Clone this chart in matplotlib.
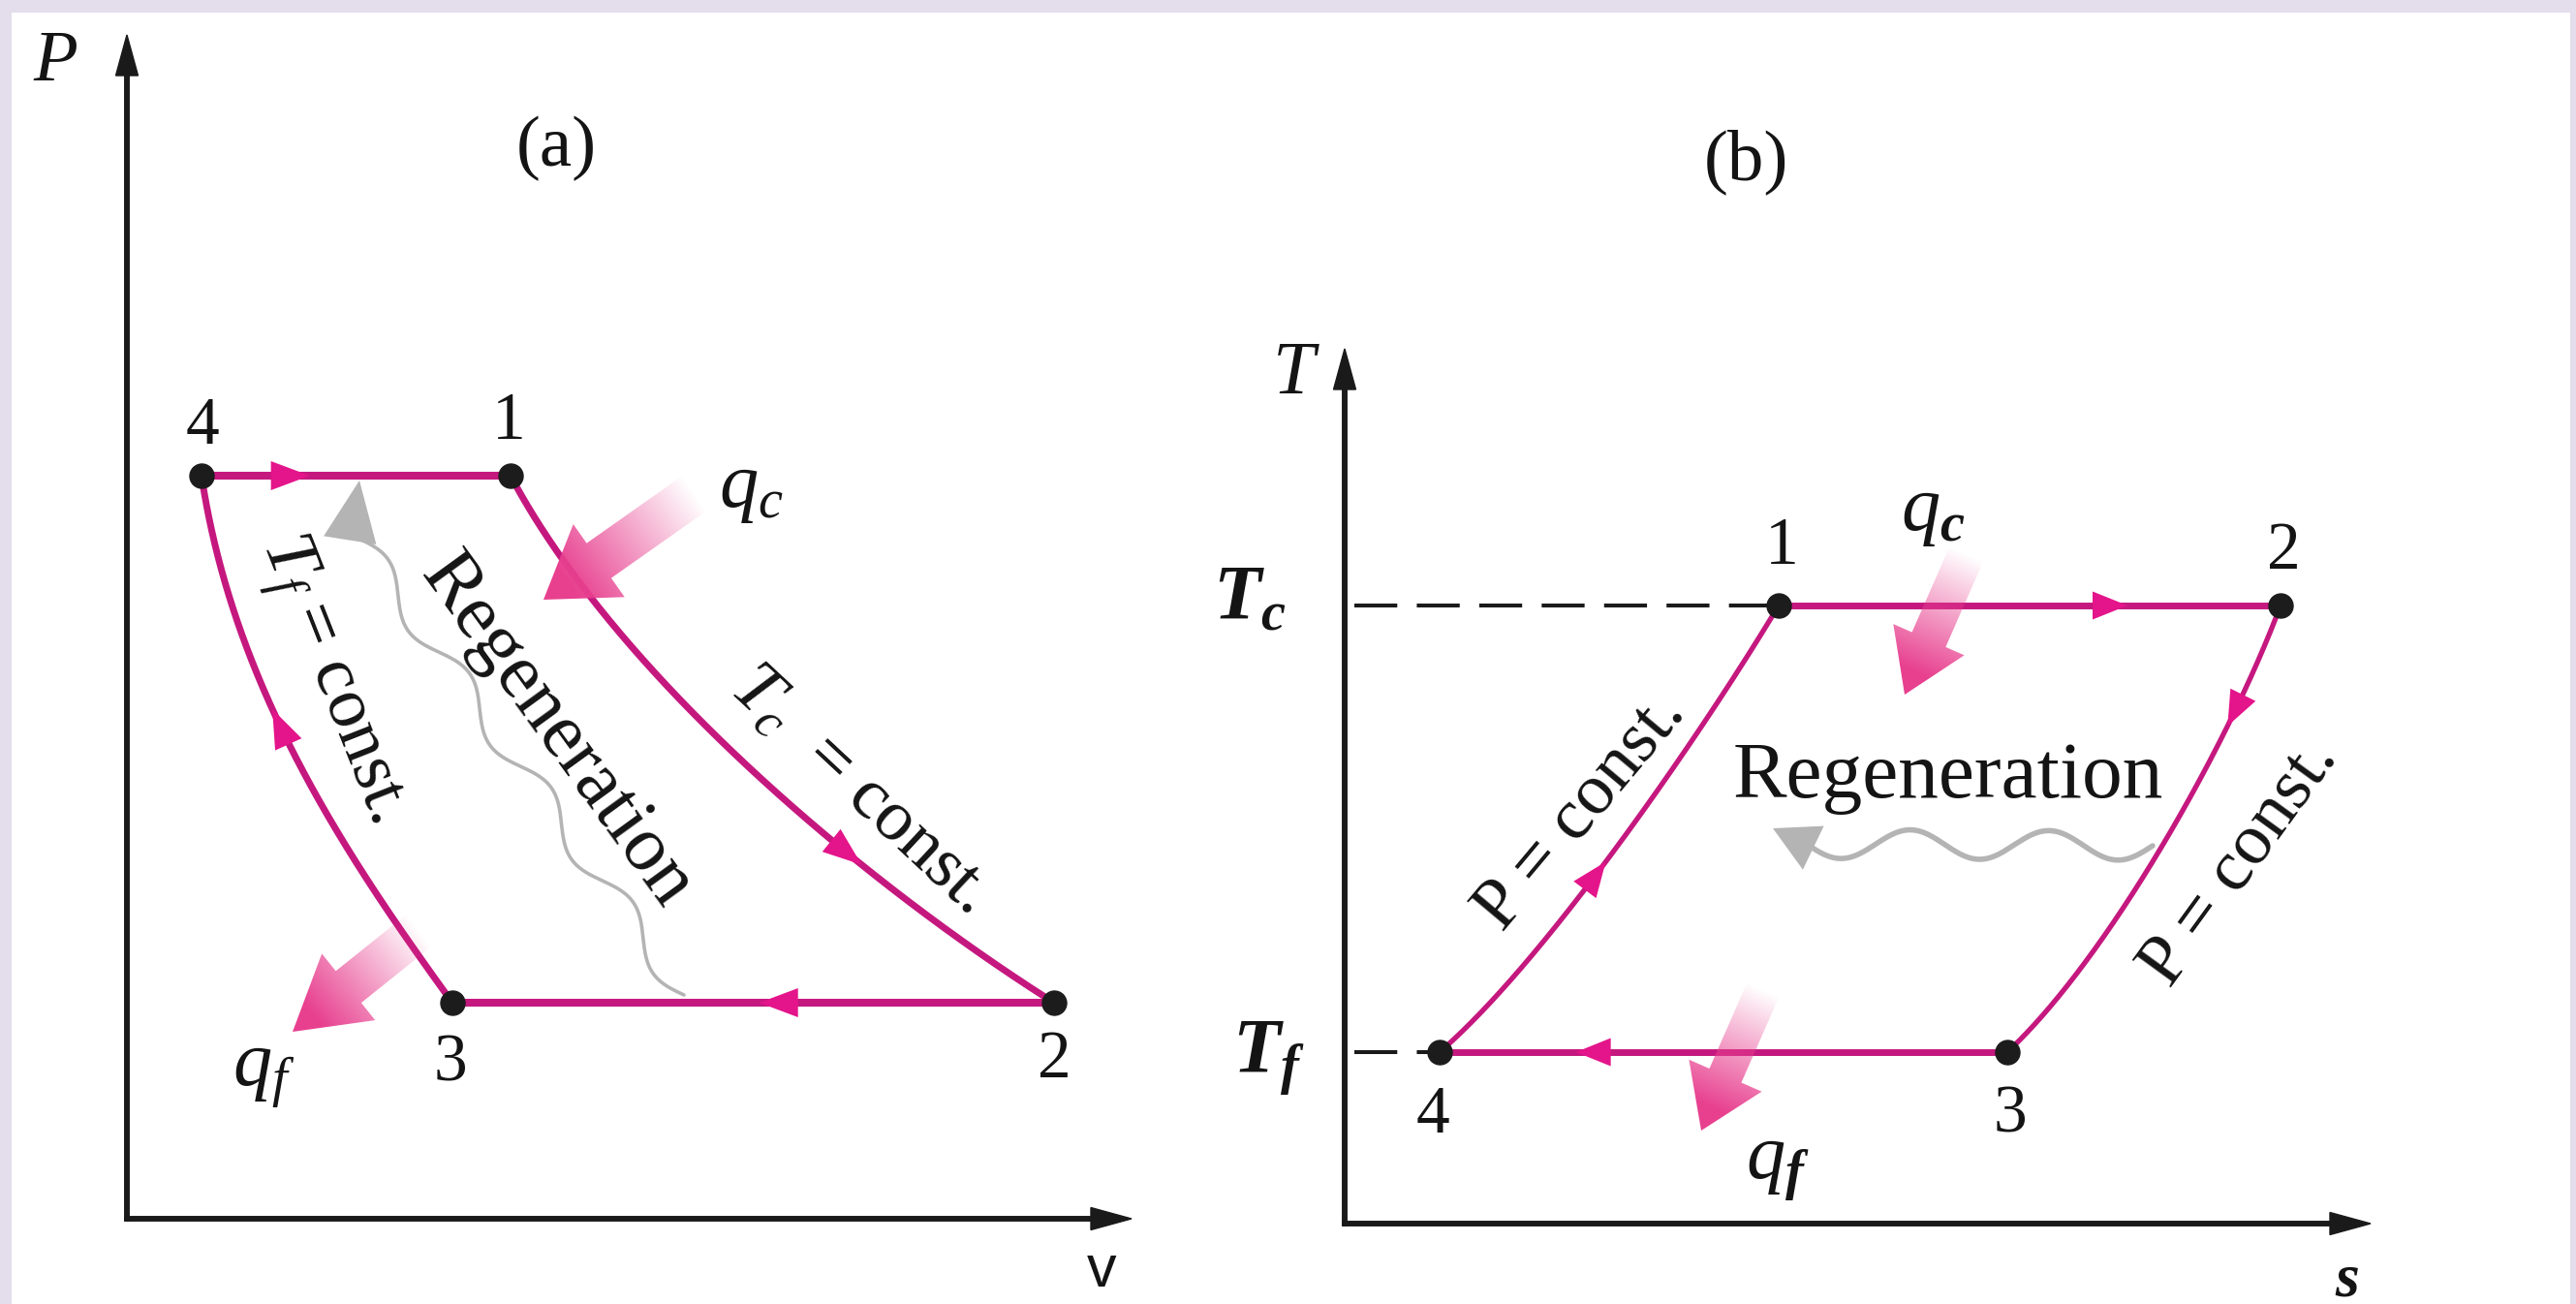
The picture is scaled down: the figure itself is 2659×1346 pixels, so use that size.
import numpy as np
import matplotlib
matplotlib.use("Agg")
import matplotlib.pyplot as plt
import matplotlib.colors as mcolors
from matplotlib.patches import Polygon, Rectangle, FancyArrow

plt.rcParams["font.family"] = ["Liberation Serif", "DejaVu Serif"]
plt.rcParams["mathtext.fontset"] = "custom"
plt.rcParams["mathtext.rm"] = "Liberation Serif"
plt.rcParams["mathtext.it"] = "Liberation Serif:italic"
plt.rcParams["mathtext.bf"] = "Liberation Serif:italic:bold"

# ---------------- (a) P-v diagram (arbitrary units) ----------------
pv_labels = ["1", "2", "3", "4"]
pv_v = [3.96, 9.57, 3.36, 0.77]
pv_P = [7.67, 2.23, 2.23, 7.67]
pv_hot_ctrl = [(5.02, 5.67), (7.50, 3.54)]     # T_c isotherm, 1 -> 2
pv_cold_ctrl = [(2.28, 3.72), (1.10, 5.47)]    # T_f isotherm, 3 -> 4
pv_arrow_frac = [0.69, 0.49, 0.585, 0.35]      # legs 1-2, 2-3, 3-4, 4-1
pv_axis_max = (10.37, 12.22)

# ---------------- (b) T-s diagram (arbitrary units) ----------------
ts_labels = ["1", "2", "3", "4"]
ts_s = [4.48, 9.66, 6.84, 0.98]
ts_T = [6.38, 6.38, 1.77, 1.77]
ts_hot_ctrl = [(9.12, 4.93), (7.87, 2.73)]     # isobar 2 -> 3
ts_cold_ctrl = [(2.08, 2.72), (3.70, 5.08)]    # isobar 4 -> 1
ts_arrow_frac = [0.695, 0.25, 0.76, 0.45]      # legs 1-2, 2-3, 3-4, 4-1
ts_axis_max = (10.59, 9.03)

W, H, DPI = 2659, 1346, 100
LINE = "#c5187f"
HEAD = "#e4148a"
DOT = "#1c1c1c"
AXC = "#1a1a1a"
GRAY = "#b4b4b4"
PINK = "#e8408f"
TXT = "#141414"


def bezier(p0, c1, c2, p3, n=400):
    p0, c1, c2, p3 = (np.asarray(p, float) for p in (p0, c1, c2, p3))
    t = np.linspace(0, 1, n)[:, None]
    return (1 - t) ** 3 * p0 + 3 * (1 - t) ** 2 * t * c1 + 3 * (1 - t) * t ** 2 * c2 + t ** 3 * p3


def segment(p0, p1, n=50):
    t = np.linspace(0, 1, n)[:, None]
    return np.asarray(p0, float) * (1 - t) + np.asarray(p1, float) * t


def along(pts, frac):
    d = np.diff(pts, axis=0)
    seg = np.hypot(d[:, 0], d[:, 1])
    cum = np.concatenate([[0], np.cumsum(seg)])
    s = frac * cum[-1]
    i = int(np.clip(np.searchsorted(cum, s) - 1, 0, len(seg) - 1))
    r = (s - cum[i]) / seg[i]
    return pts[i] + r * d[i], d[i] / seg[i]


def head(ax, tip, u, length, width, color, z=5):
    tip = np.asarray(tip, float)
    u = np.asarray(u, float)
    n = np.array([-u[1], u[0]])
    base = tip - u * length
    ax.add_patch(Polygon([tip, base + n * width / 2, base - n * width / 2],
                         closed=True, fc=color, ec="none", zorder=z))


def heat_arrow(ax, tail, tip, shaft, hw, hl, color=PINK, z=6):
    tail = np.asarray(tail, float)
    tip = np.asarray(tip, float)
    d = tip - tail
    L = np.hypot(*d)
    u = d / L
    n = np.array([-u[1], u[0]])
    base = tip - u * hl
    pts = np.array([tail + n * shaft / 2, base + n * shaft / 2, base + n * hw / 2, tip,
                    base - n * hw / 2, base - n * shaft / 2, tail - n * shaft / 2])
    poly = Polygon(pts, closed=True, fc="none", ec="none")
    ax.add_patch(poly)
    x0, y0 = pts.min(0)
    x1, y1 = pts.max(0)
    gx, gy = np.meshgrid(np.linspace(x0, x1, 240), np.linspace(y0, y1, 240))
    t = ((gx - tail[0]) * u[0] + (gy - tail[1]) * u[1]) / L
    rgba = np.zeros(gx.shape + (4,))
    rgba[..., :3] = mcolors.to_rgb(color)
    rgba[..., 3] = np.clip(1.3 * t - 0.1, 0, 1) ** 1.0
    im = ax.imshow(rgba, extent=(x0, x1, y0, y1), origin="lower", aspect="auto",
                   interpolation="bilinear", zorder=z)
    im.set_clip_path(poly)


def regen(ax, start, end, tip, wl, amp, lw, hw):
    start = np.asarray(start, float)
    end = np.asarray(end, float)
    d = end - start
    L = np.hypot(*d)
    u = d / L
    n = np.array([-u[1], u[0]])
    s = np.linspace(0, L, 600)
    off = amp * np.sin(2 * np.pi * s / wl)
    pts = start + s[:, None] * u + off[:, None] * n
    ax.plot(pts[:, 0], pts[:, 1], color=GRAY, lw=lw, solid_capstyle="round", zorder=3)
    tip = np.asarray(tip, float)
    dh = tip - pts[-1]
    hl = np.hypot(*dh)
    head(ax, tip, dh / hl, hl * 1.1, hw, GRAY, z=3)


def axis_arrows(ax, xmax, ymax):
    w = 0.045
    ax.add_patch(FancyArrow(-w / 2, 0, xmax + w / 2, 0, width=w, head_width=0.23, head_length=0.42,
                            length_includes_head=True, color=AXC, zorder=2, clip_on=False))
    ax.add_patch(FancyArrow(0, -w / 2, 0, ymax + w / 2, width=w, head_width=0.23, head_length=0.42,
                            length_includes_head=True, color=AXC, zorder=2, clip_on=False))


def cycle(ax, pts4, legs, fracs, lw_h, lw_c, hl, hwid):
    for k, leg in enumerate(legs):
        lw = lw_h if len(leg) == 50 else lw_c
        ax.plot(leg[:, 0], leg[:, 1], color=LINE, lw=lw, solid_capstyle="butt", zorder=4)
        tip, u = along(leg, fracs[k])
        head(ax, tip, u, hl, hwid, HEAD, z=5)
    ax.plot(pts4[:, 0], pts4[:, 1], "o", ms=18, color=DOT, zorder=7)


def label(ax, x, y, s, size, rot=0, **kw):
    kw.setdefault("ha", "center")
    kw.setdefault("va", "center")
    ax.text(x, y, s, fontsize=size, rotation=rot, rotation_mode="anchor",
            color=TXT, zorder=8, **kw)


fig = plt.figure(figsize=(W / DPI, H / DPI), dpi=DPI, facecolor="#e3ddec")
fig.patches.append(Rectangle((12 / W, 0), (2653 - 12) / W, (H - 13) / H,
                             transform=fig.transFigure, fc="white", ec="none", zorder=-10))

# ============ (a) P-v ============
axa = fig.add_axes([131 / W, (H - 1258) / H, 1100 / W, 1224 / H])
axa.axis("off")
pa = np.column_stack([pv_v, pv_P])
legs_a = [bezier(pa[0], pv_hot_ctrl[0], pv_hot_ctrl[1], pa[1]),
          segment(pa[1], pa[2]),
          bezier(pa[2], pv_cold_ctrl[0], pv_cold_ctrl[1], pa[3]),
          segment(pa[3], pa[0])]
axis_arrows(axa, *pv_axis_max)
regen(axa, (5.75, 2.31), (2.34, 7.08), (2.40, 7.62), wl=1.45, amp=0.13, lw=2.6, hw=0.55)
cycle(axa, pa, legs_a, pv_arrow_frac, lw_h=5.8, lw_c=5.0, hl=0.40, hwid=0.30)
heat_arrow(axa, (5.99, 7.58), (4.30, 6.39), shaft=0.44, hw=0.92, hl=0.70)
heat_arrow(axa, (3.12, 3.06), (1.71, 1.93), shaft=0.42, hw=0.88, hl=0.74)

offs_a = [(-0.02, 0.55), (0.0, -0.60), (-0.02, -0.64), (0.01, 0.50)]
for lab, p, o in zip(pv_labels, pa, offs_a):
    label(axa, p[0] + o[0], p[1] + o[1], lab, 50)

label(axa, -0.74, 11.93, "$P$", 54)
label(axa, 4.43, 11.05, "(a)", 54)
label(axa, 10.06, -0.55, "v", 44, family="Liberation Sans")
label(axa, 6.44, 7.53, "$q_c$", 58)
label(axa, 1.41, 1.48, "$q_f$", 58)
label(axa, 2.11, 5.57, "$T_f$ = const.", 54, -68.5)
label(axa, 4.43, 5.03, "Regeneration", 58, -54)
label(axa, 7.56, 4.43, "$T_c$  = const.", 54, -43)
axa.set_xlim(0, 11.0)
axa.set_ylim(0, 12.24)

# ============ (b) T-s ============
axb = fig.add_axes([1388 / W, (H - 1263) / H, 1200 / W, 905 / H])
axb.axis("off")
pb = np.column_stack([ts_s, ts_T])
legs_b = [segment(pb[0], pb[1]),
          bezier(pb[1], ts_hot_ctrl[0], ts_hot_ctrl[1], pb[2]),
          segment(pb[2], pb[3]),
          bezier(pb[3], ts_cold_ctrl[0], ts_cold_ctrl[1], pb[0])]
axis_arrows(axb, *ts_axis_max)
axb.plot([0.1, pb[0][0]], [pb[0][1]] * 2, color=AXC, lw=2.9, ls=(0, (11, 5)), zorder=2)
axb.plot([0.1, pb[3][0]], [pb[3][1]] * 2, color=AXC, lw=2.9, ls=(0, (11, 5)), zorder=2)
regen(axb, (8.34, 3.90), (4.80, 3.92), (4.42, 4.08), wl=1.43, amp=0.15, lw=4.0, hw=0.50)
cycle(axb, pb, legs_b, ts_arrow_frac, lw_h=5.0, lw_c=3.8, hl=0.36, hwid=0.29)
heat_arrow(axb, (6.47, 7.03), (5.78, 5.46), shaft=0.38, hw=0.80, hl=0.62)
heat_arrow(axb, (4.37, 2.53), (3.68, 0.96), shaft=0.36, hw=0.82, hl=0.62)

offs_b = [(0.03, 0.60), (0.03, 0.55), (0.03, -0.66), (-0.07, -0.66)]
for lab, p, o in zip(ts_labels, pb, offs_b):
    label(axb, p[0] + o[0], p[1] + o[1], lab, 50)

label(axb, -0.50, 8.76, "$T$", 56)
label(axb, 4.14, 10.96, "(b)", 54)
label(axb, 10.35, -0.59, r"$\mathbf{s}$", 46)
label(axb, -0.98, 6.43, r"$\mathbf{T}_{\mathbf{c}}$", 58)
label(axb, -0.78, 1.70, r"$\mathbf{T}_{\mathbf{f}}$", 58)
label(axb, 6.07, 7.33, r"$q_{\mathbf{c}}$", 58)
label(axb, 4.47, 0.58, r"$q_{\mathbf{f}}$", 58)
label(axb, 6.23, 4.40, "Regeneration", 60, va="baseline")
label(axb, 2.44, 4.25, "P = const.", 54, 50)
label(axb, 9.24, 3.72, "P = const.", 54, 54)
axb.set_xlim(0, 12.0)
axb.set_ylim(0, 9.05)

fig.savefig("out.png", dpi=DPI)
